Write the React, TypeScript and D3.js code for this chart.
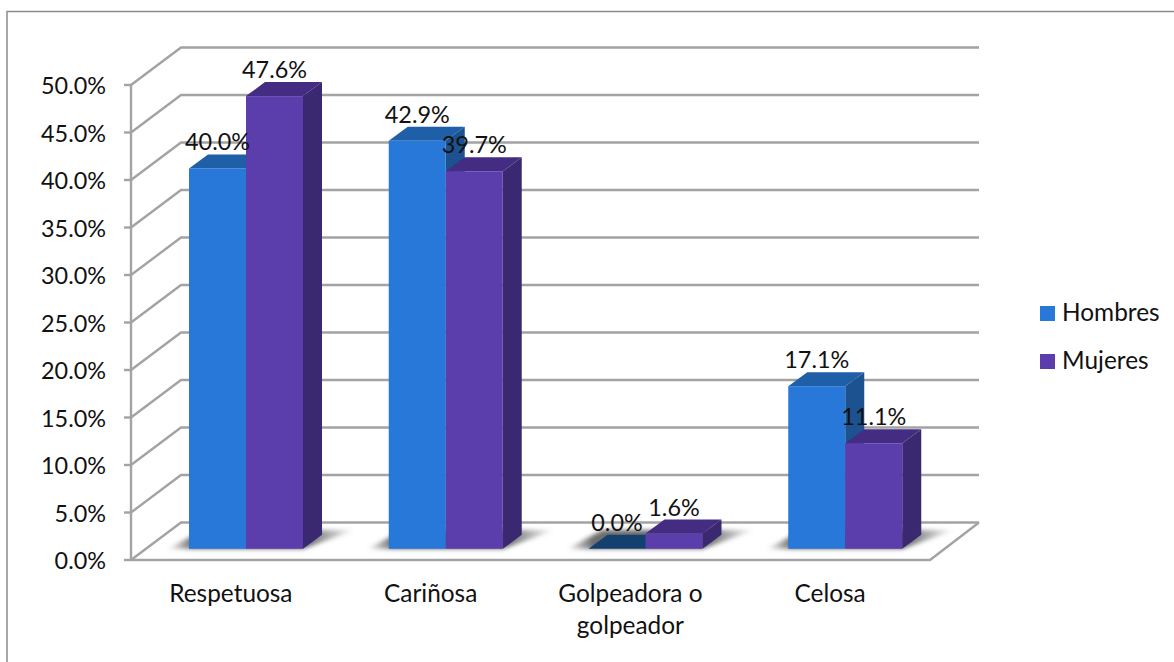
import React from "react";
import * as d3 from "d3";

const categories = ["Respetuosa", "Cariñosa", "Golpeadora o golpeador", "Celosa"];
const categoryLines = [["Respetuosa"], ["Cariñosa"], ["Golpeadora o", "golpeador"], ["Celosa"]];
const hombres = [40.0, 42.9, 0.0, 17.1];
const mujeres = [47.6, 39.7, 1.6, 11.1];
const ticks = [0, 5, 10, 15, 20, 25, 30, 35, 40, 45, 50];
const seriesNames = ["Hombres", "Mujeres"];

const W = 1174, H = 662;
const FONT = "Lato, sans-serif";
const FS = 23.4;
const FS_CAT = 24.4;
const DEPTH_X = 50, DEPTH_Y = 37.5;
const BAR_DX = 19, BAR_DY = 14;
const FRONT_Y0 = 560;

const colors = [
  { front: "#2878d9", top: "#1f5fa8", side: "#1b528f", flat: "#14406f" },
  { front: "#5b3dab", top: "#432c82", side: "#3a2870", flat: "#432c82" },
];

const x0 = d3.scaleBand<string>().domain(categories).range([131, 930]);
const yFront = d3.scaleLinear().domain([0, 50]).range([FRONT_Y0, 85]);
// bars stand part-way into the floor, so their baseline sits above the front edge
const yBar = d3.scaleLinear().domain([0, 50]).range([548.8, 73.3]);
const pts = (p: number[][]) => p.map((q) => q.join(",")).join(" ");
const BAR_W = 57;

function Bar({ x, v, s }: { x: number; v: number; s: number }) {
  const y = yBar(v), b = yBar(0), c = colors[s];
  return (
    <g>
      <polygon points={pts([[x + BAR_W, y], [x + BAR_W + BAR_DX, y - BAR_DY], [x + BAR_W + BAR_DX, b - BAR_DY], [x + BAR_W, b]])} fill={c.side} />
      <polygon points={pts([[x, y], [x + BAR_DX, y - BAR_DY], [x + BAR_W + BAR_DX, y - BAR_DY], [x + BAR_W, y]])} fill={v === 0 ? c.flat : c.top} />
      {v > 0 && <rect x={x} y={y} width={BAR_W} height={b - y} fill={c.front} />}
    </g>
  );
}

export default function App() {
  const grid = "#a3a3a3";
  return (
    <svg width={W} height={H} viewBox={`0 0 ${W} ${H}`} style={{ position: "absolute", left: 0, top: 0, background: "#fff" }} fontFamily={FONT} fontSize={FS} fill="#111">
      <defs>
        <filter id="sh" x="-20%" y="-60%" width="140%" height="220%">
          <feGaussianBlur stdDeviation="2" />
        </filter>
        <linearGradient id="shg" x1="0" x2="1" y1="0" y2="0">
          <stop offset="0" stopColor="#666" stopOpacity="0" />
          <stop offset="0.14" stopColor="#666" stopOpacity="0.95" />
          <stop offset="0.75" stopColor="#666" stopOpacity="0.95" />
          <stop offset="1" stopColor="#666" stopOpacity="0" />
        </linearGradient>
      </defs>
      <path d={`M7,${H}V11.5H${W}`} fill="none" stroke="#8a8a8a" strokeWidth={1.5} />

      {ticks.map((t) => {
        const y = yFront(t);
        return (
          <g key={t}>
            <polyline points={pts([[131, y], [131 + DEPTH_X, y - DEPTH_Y], [979, y - DEPTH_Y]])} fill="none" stroke={grid} strokeWidth={2.4} />
            <line x1={124} x2={131} y1={y} y2={y} stroke={grid} strokeWidth={2.4} />
            <text x={106} y={y + 9} textAnchor="end">{t.toFixed(1)}%</text>
          </g>
        );
      })}
      <line x1={131} x2={131} y1={85} y2={561} stroke={grid} strokeWidth={2.4} />
      <polyline points={pts([[131, FRONT_Y0], [930, FRONT_Y0], [979, FRONT_Y0 - DEPTH_Y]])} fill="none" stroke={grid} strokeWidth={2.4} />

      {categories.map((c) => {
        const x = x0(c)! + 58;
        return (
          <polygon key={c} filter="url(#sh)" fill="url(#shg)"
            points={pts([[x - 22, 549], [x + 2 * BAR_W, 549], [x + 2 * BAR_W + 52, 530], [x + 14, 530]])} />
        );
      })}

      {categories.map((c, i) => {
        const x = x0(c)! + 58;
        return (
          <g key={c}>
            <Bar x={x} v={hombres[i]} s={0} />
            <Bar x={x + BAR_W} v={mujeres[i]} s={1} />
          </g>
        );
      })}

      {categories.map((c, i) => {
        const x = x0(c)! + 58;
        return (
          <g key={c} textAnchor="middle">
            <text x={x + BAR_W / 2} y={yBar(hombres[i]) - 18}>{hombres[i].toFixed(1)}%</text>
            <text x={x + BAR_W * 1.5} y={yBar(mujeres[i]) - 18}>{mujeres[i].toFixed(1)}%</text>
            {categoryLines[i].map((l, k) => (
              <text key={l} x={x0(c)! + x0.bandwidth() / 2} y={602 + k * 32} fontSize={FS_CAT}>{l}</text>
            ))}
          </g>
        );
      })}

      {seriesNames.map((n, i) => (
        <g key={n}>
          <rect x={1040} y={306 + i * 48} width={15} height={15} fill={colors[i].front} />
          <text x={1062} y={321 + i * 48} fontSize={FS_CAT}>{n}</text>
        </g>
      ))}
    </svg>
  );
}
